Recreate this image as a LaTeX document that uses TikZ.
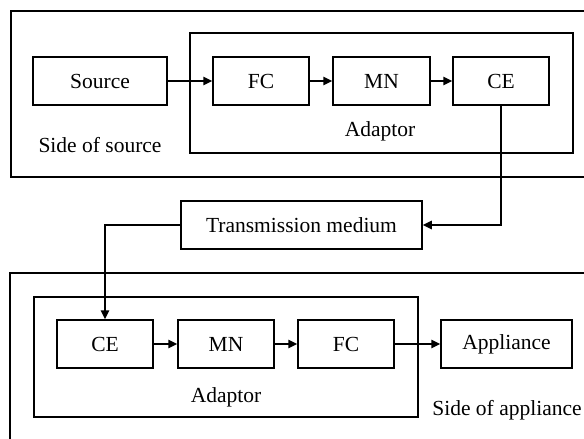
\documentclass[tikz,border=0pt]{standalone}
\usepackage{fontspec}
\setmainfont{Liberation Serif}
\usetikzlibrary{arrows.meta}
\begin{document}
\begin{tikzpicture}[x=1pt,y=-1pt,
  line width=1.5pt,
  box/.style={draw,line width=1.5pt,inner sep=0pt,font=\fontsize{21.5}{26}\selectfont},
  lbl/.style={inner sep=0pt,font=\fontsize{21.5}{26}\selectfont},
  arr/.style={-{Triangle[length=9pt,width=8.5pt]},line width=1.5pt}]
\useasboundingbox (0,0) rectangle (584,439);
% outer frames (cut at the right / bottom edge)
\draw (584,11) -- (11,11) -- (11,177) -- (584,177);
\draw (584,273) -- (10,273) -- (10,439);
% top adaptor
\node[draw,line width=1.5pt,minimum width=383pt,minimum height=120pt,inner sep=0pt] (ad1) at (381.5,93) {};
\node[box,minimum width=134pt,minimum height=48pt] (src) at (100,81) {Source};
\node[box,minimum width=96pt,minimum height=48pt] (fc1) at (261,81) {FC};
\node[box,minimum width=97pt,minimum height=48pt] (mn1) at (381.5,81) {MN};
\node[box,minimum width=96pt,minimum height=48pt] (ce1) at (501,81) {CE};
\node[lbl] (adl1) at (380,131) {Adaptor};
\node[lbl] (sos) at (100,145) {Side of source};
% transmission medium
\node[box,minimum width=241pt,minimum height=48pt] (tm) at (301.5,225) {Transmission medium};
% bottom adaptor
\node[draw,line width=1.5pt,minimum width=384pt,minimum height=120pt,inner sep=0pt] (ad2) at (226,357) {};
\node[box,minimum width=96pt,minimum height=48pt] (ce2) at (105,344) {CE};
\node[box,minimum width=96pt,minimum height=48pt] (mn2) at (226,344) {MN};
\node[box,minimum width=96pt,minimum height=48pt] (fc2) at (346,344) {FC};
\node[box,minimum width=131pt,minimum height=48pt] (app) at (506.5,344) {Appliance};
\node[lbl] (adl2) at (226,397) {Adaptor};
\node[lbl] (soa) at (507,410) {Side of appliance};
% connectors
\draw[arr] (src) -- (fc1);
\draw[arr] (fc1) -- (mn1);
\draw[arr] (mn1) -- (ce1);
\draw[arr] (ce1.south) |- (tm.east);
\draw[arr] (tm.west) -| (ce2.north);
\draw[arr] (ce2) -- (mn2);
\draw[arr] (mn2) -- (fc2);
\draw[arr] (fc2) -- (app);
\end{tikzpicture}
\end{document}
